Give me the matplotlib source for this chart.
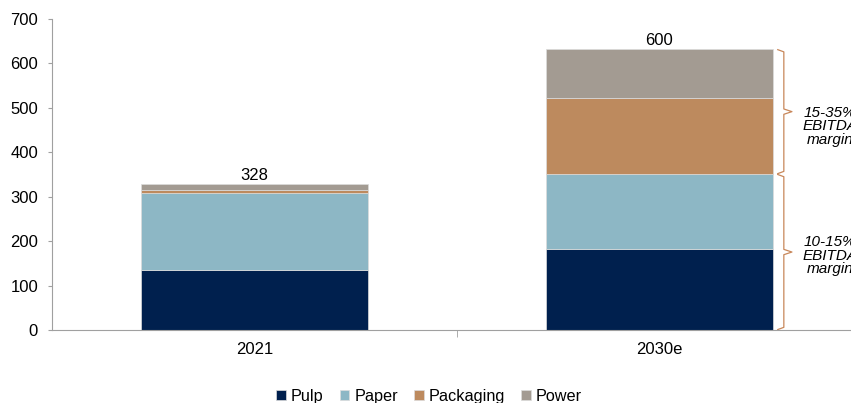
import numpy as np
import matplotlib.pyplot as plt

plt.rcParams['font.family'] = ['Liberation Sans', 'DejaVu Sans']

years = ['2021', '2030e']
pulp = [135, 182]
paper = [174, 169]
packaging = [6, 172]
power = [13, 109]
total_labels = ['328', '600']
segments = ['Pulp', 'Paper', 'Packaging', 'Power']
colors = ['#00204e', '#8db7c5', '#bd8a5e', '#a39b92']

# margin brackets on 2030e bar: (label, bottom, top)
brackets = [('10-15%\nEBITDA\nmargin', 0, 351), ('15-35%\nEBITDA\nmargin', 351, 632)]
bracket_color = '#c8875a'

fig = plt.figure(figsize=(8.51, 4.03), dpi=100)
ax = fig.add_axes([52 / 851, 73 / 403, 810 / 851, 311 / 403])

x = np.arange(len(years))
width = 0.56
bottom = np.zeros(len(years))
for name, vals, col in zip(segments, [pulp, paper, packaging, power], colors):
    ax.bar(x, vals, width, bottom=bottom, color=col, label=name,
           edgecolor='#dcdcdc', linewidth=0.5)
    bottom += np.array(vals)

for xi, tot, lab in zip(x, bottom, total_labels):
    ax.text(xi, tot + 3, lab, ha='center', va='bottom', fontsize=12)

# curly-ish brackets
bx = 1.307
text_y = [167, 459]
for (lab, y0, y1), ty in zip(brackets, text_y):
    mid = (y0 + y1) / 2
    d = 6
    xs = [bx - 0.015, bx, bx, bx + 0.02, bx, bx, bx - 0.015]
    ys = [y0 + 1, y0 + d, mid - d, mid, mid + d, y1 - d, y1 - 1]
    ax.plot(xs, ys, color=bracket_color, lw=0.9, clip_on=False)
    ax.text(1.421, ty, lab, ha='center', va='center', fontsize=11,
            style='italic', linespacing=0.95, clip_on=False)

ax.set_xlim(-0.5, 1.5)
ax.set_ylim(0, 700)
ax.set_yticks(np.arange(0, 701, 100))
ax.set_xticks(x)
ax.set_xticklabels(years)
ax.set_xticks([0.5], minor=True)
ax.tick_params(axis='x', which='major', length=0, pad=9, labelsize=12)
ax.tick_params(axis='x', which='minor', length=5, color='#a0a0a0')
ax.tick_params(axis='y', length=3, color='#a0a0a0', labelsize=12, pad=7)

for s in ['top', 'right']:
    ax.spines[s].set_visible(False)
for s in ['left', 'bottom']:
    ax.spines[s].set_color('#a0a0a0')

ax.legend(loc='center', bbox_to_anchor=(377 / 810, -0.213), ncol=4,
          frameon=False, fontsize=11.7, handlelength=0.6, handleheight=0.6,
          handletextpad=0.3, columnspacing=1.0, borderaxespad=0, borderpad=0.1)

fig.savefig('out.png', dpi=100)
